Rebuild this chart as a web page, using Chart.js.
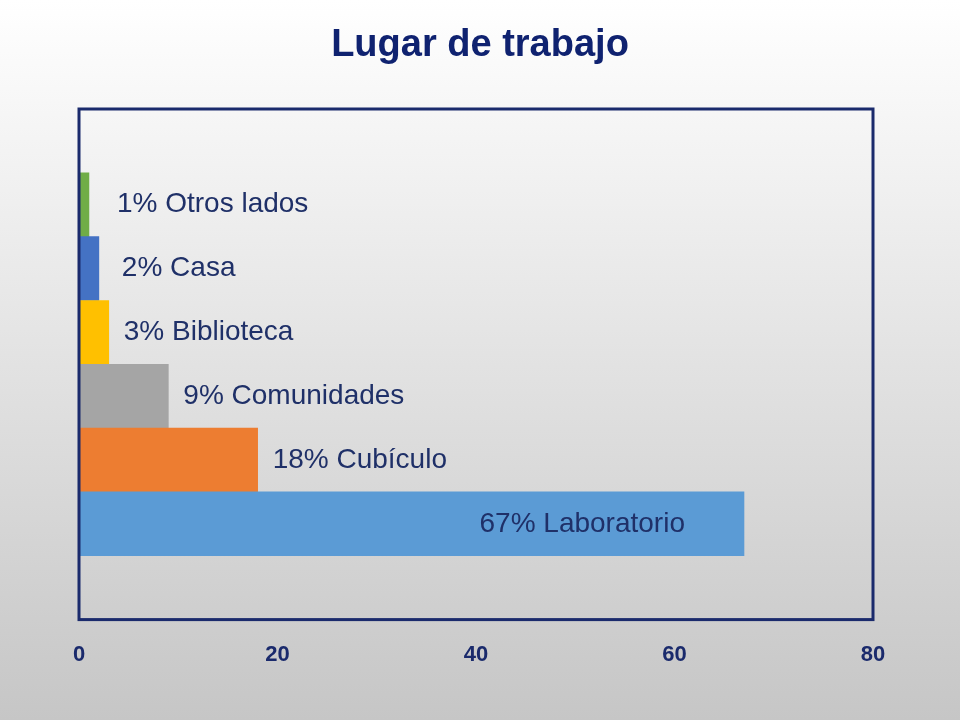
<!DOCTYPE html>
<html>
<head>
<meta charset="utf-8">
<script src="https://cdn.jsdelivr.net/npm/chart.js@4"></script>
<style>
  html, body { margin: 0; padding: 0; }
  body { width: 960px; height: 720px; background: linear-gradient(#ffffff, #c6c6c6); }
  #wrap { position: relative; width: 960px; height: 720px; }
</style>
</head>
<body>
<div id="wrap"><canvas id="chart"></canvas></div>
<script>
// slots at top and bottom are left empty, like the original
const categories = ['', 'Otros lados', 'Casa', 'Biblioteca', 'Comunidades', 'Cubículo', 'Laboratorio', ''];
const values = [null, 1, 2, 3, 9, 18, 67, null];
const barColors = ['#fff', '#70ad47', '#4472c4', '#ffc000', '#a5a5a5', '#ed7d31', '#5b9bd5', '#fff'];
const xTicks = [0, 20, 40, 60, 80];

const navy = '#1a2a6c';

const overlay = {
    id: 'overlay',
    afterDatasetsDraw(chart) {
        const ctx = chart.ctx;
        const a = chart.chartArea;
        const x = chart.scales.x, y = chart.scales.y;
        ctx.save();
        // title
        ctx.fillStyle = '#0f2270';
        ctx.font = 'bold 38px "Liberation Sans", Arial, sans-serif';
        ctx.textAlign = 'center';
        ctx.textBaseline = 'middle';
        ctx.fillText('Lugar de trabajo', 480, 46);
        // box
        ctx.strokeStyle = navy;
        ctx.lineWidth = 3;
        ctx.strokeRect(a.left, a.top, a.right - a.left, a.bottom - a.top);
        // value labels
        ctx.font = '28px "Liberation Sans", Arial, sans-serif';
        ctx.fillStyle = '#1f3068';
        ctx.textBaseline = 'middle';
        values.forEach((v, i) => {
            if (v === null) return;
            const txt = v + '% ' + categories[i];
            const yy = y.getPixelForValue(i);
            if (v > 40) {
                ctx.textAlign = 'right';
                ctx.fillText(txt, x.getPixelForValue(v) - 59, yy);
            } else {
                ctx.textAlign = 'left';
                ctx.fillText(txt, x.getPixelForValue(v) + (v < 2 ? 28 : v < 3 ? 23 : 15), yy);
            }
        });
        ctx.restore();
    }
};

new Chart(document.getElementById('chart'), {
    type: 'bar',
    data: {
        labels: categories,
        datasets: [{
            data: values,
            backgroundColor: barColors,
            barPercentage: 1,
            categoryPercentage: 1,
            borderWidth: 0
        }]
    },
    options: {
        indexAxis: 'y',
        responsive: true,
        maintainAspectRatio: false,
        animation: false,
        layout: { padding: { top: 109, left: 79, right: 87, bottom: 30 } },
        plugins: { legend: { display: false }, tooltip: { enabled: false } },
        scales: {
            x: {
                min: 0, max: 80,
                afterBuildTicks: s => { s.ticks = xTicks.map(v => ({ value: v })); },
                grid: { display: false, drawTicks: false },
                border: { display: false },
                ticks: { padding: 22, color: navy, font: { size: 22, weight: 'bold', family: '"Liberation Sans", Arial, sans-serif' } }
            },
            y: { display: false, grid: { display: false } }
        }
    },
    plugins: [overlay]
});
</script>
</body>
</html>
